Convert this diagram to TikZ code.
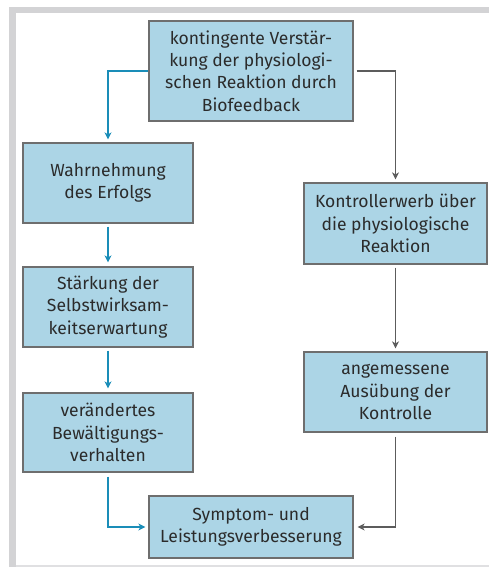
\documentclass[tikz,border=0pt]{standalone}
\usepackage{fontspec}
\setmainfont{Fira Sans}
\usetikzlibrary{arrows.meta}
\definecolor{boxblue}{HTML}{ACD5E6}
\definecolor{boxline}{HTML}{6E6E6E}
\definecolor{arrblue}{HTML}{1A8DB8}
\definecolor{arrgrey}{HTML}{5C5C5C}
\definecolor{framegrey}{HTML}{D3D3D5}
\definecolor{textgrey}{HTML}{2B2B2B}

\begin{document}
\begin{tikzpicture}[
  x=1bp, y=-1bp,
  font=\fontsize{17.6}{22.4}\selectfont,
  box/.style={draw=boxline, line width=1.2bp, fill=boxblue, text=textgrey,
              align=center, inner sep=0pt},
  lbox/.style={box, minimum width=170bp, minimum height=80bp},
  rbox/.style={box, minimum width=183bp, minimum height=81bp},
  wbox/.style={box, minimum width=204bp},
  arrb/.style={-{Stealth[length=7bp, width=7bp, inset=2bp]}, line width=1.3bp, arrblue},
  arrg/.style={-{Stealth[length=7bp, width=7bp, inset=2bp]}, line width=1.3bp, arrgrey},
]
\useasboundingbox (0,0) rectangle (489,567);
% frame
\fill[framegrey] (9,7) rectangle (489,13);
\fill[framegrey] (9,7) rectangle (16,567);
\fill[framegrey!70] (16,565) rectangle (489,567);
% top and bottom
\node[wbox, minimum height=100bp] (feedback) at (251,71)
  {kontingente Verstär-\\kung der physiologi-\\schen Reaktion durch\\Biofeedback};
\node[wbox, minimum height=62bp] (symptom) at (251,527)
  {Symptom- und\\Leistungsverbesserung};
% left column
\node[lbox] (erfolg) at (108,183) {Wahrnehmung\\des Erfolgs};
\node[lbox] (staerkung) at (108,307) {Stärkung der\\Selbstwirksam-\\keitserwartung};
\node[lbox, minimum height=79bp] (verhalten) at (108,432.5)
  {verändertes\\Bewältigungs-\\verhalten};
% right column
\node[rbox] (erwerb) at (395.5,223.5)
  {Kontrollerwerb über\\die physiologische\\Reaktion};
\node[rbox, minimum height=80bp] (ausuebung) at (395.5,392)
  {angemessene\\Ausübung der\\Kontrolle};
% arrows
\draw[arrb, shorten >=3bp] (feedback.west) -| (erfolg.north);
\draw[arrb, shorten <=3bp, shorten >=4bp] (erfolg) -- (staerkung);
\draw[arrb, shorten <=3bp, shorten >=4bp] (staerkung) -- (verhalten);
\draw[arrb, shorten <=4bp, shorten >=3bp] (verhalten.south) |- (symptom.west);
\draw[arrg, shorten <=3bp, shorten >=3bp] (feedback.east) -| (erwerb.north);
\draw[arrg, shorten <=3bp, shorten >=3bp] (erwerb) -- (ausuebung);
\draw[arrg, shorten <=4bp, shorten >=4bp] (ausuebung.south) |- (symptom.east);
\end{tikzpicture}
\end{document}
